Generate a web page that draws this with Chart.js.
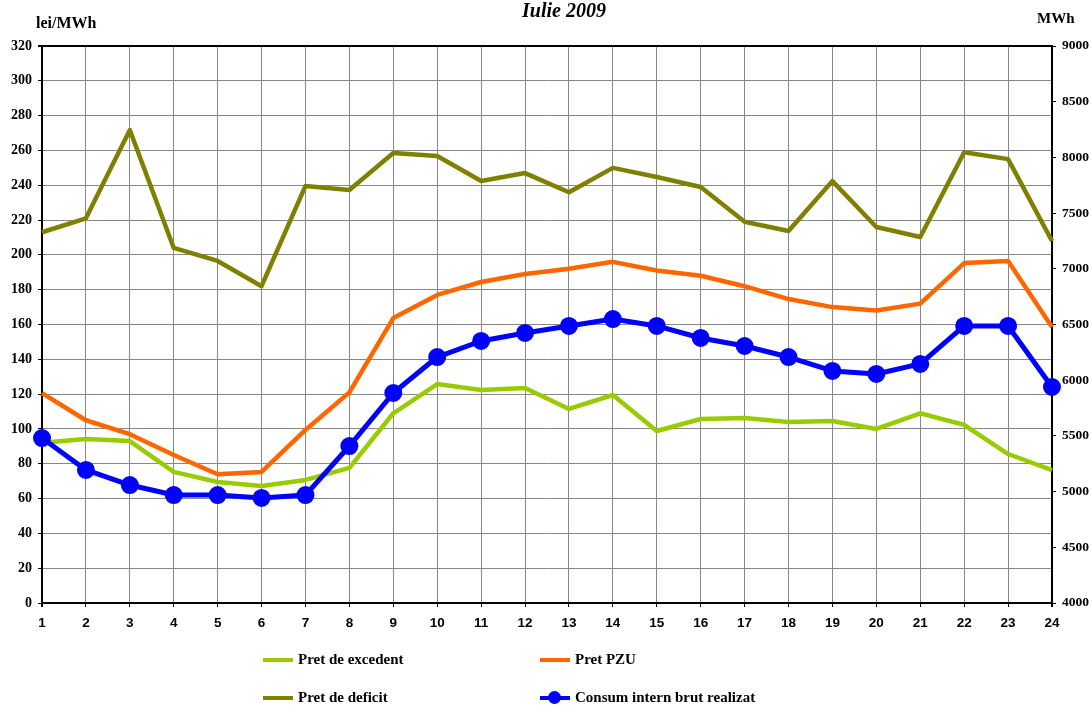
<!DOCTYPE html>
<html>
<head>
<meta charset="utf-8">
<script src="https://cdn.jsdelivr.net/npm/chart.js@4"></script>
<style>
  body { margin: 0; background: #fff; font-family: "Liberation Serif", serif; }
  #wrap { position: relative; width: 1091px; height: 706px; }
  .lbl { position: absolute; font-weight: bold; font-size: 16px; line-height: 18px; color: #000; white-space: nowrap; }
  .leg { position: absolute; font-weight: bold; font-size: 15px; line-height: 18px; }
  .leg i { display: inline-block; width: 30px; height: 4px; vertical-align: middle; margin-right: 5px; position: relative; top: -1px; }
  .dot { position: absolute; left: 8px; top: -5px; width: 13px; height: 13px; border-radius: 50%; background: #0000ff; }
</style>
</head>
<body>
<div id="wrap">
  <canvas id="chart"></canvas>
  <div class="lbl" style="left:522px;top:0px;font-size:20px;line-height:20px;font-style:italic;">Iulie 2009</div>
  <div class="lbl" style="left:36px;top:14px;">lei/MWh</div>
  <div class="lbl" style="left:1037px;top:9px;font-size:15px;">MWh</div>
  <div class="leg" style="left:263px;top:650px;"><i style="background:#99cc00"></i>Pret de excedent</div>
  <div class="leg" style="left:540px;top:650px;"><i style="background:#ff6600"></i>Pret PZU</div>
  <div class="leg" style="left:263px;top:688px;"><i style="background:#808000"></i>Pret de deficit</div>
  <div class="leg" style="left:540px;top:688px;"><i style="background:#0000ff"><span class="dot"></span></i>Consum intern brut realizat</div>
</div>
<script>
const hours = ["1","2","3","4","5","6","7","8","9","10","11","12","13","14","15","16","17","18","19","20","21","22","23","24"];
const pretExcedent = [92, 94.2, 93, 75.3, 69.5, 67.2, 70.7, 77.6, 109, 125.8, 122.4, 123.5, 111.5, 119.5, 98.8, 105.7, 106.3, 104, 104.6, 100, 109, 102.3, 85.6, 76.4];
const pretPZU = [120.6, 105, 97, 85, 74, 75.3, 99.4, 121, 163.7, 177, 184.4, 189, 192, 196, 191, 188, 182, 174.6, 170, 168, 172, 195.3, 196.5, 158.6];
const pretDeficit = [213, 221, 271.7, 204, 196.5, 182, 239.6, 237.3, 258.5, 256.8, 242.4, 247, 236, 250, 244.7, 239, 219, 213.7, 242.4, 216, 210.3, 259, 255, 208];
const consum = [5481, 5194, 5059, 4969, 4969, 4943, 4969, 5409, 5885, 6208, 6352, 6424, 6487, 6549, 6487, 6379, 6307, 6208, 6083, 6056, 6146, 6487, 6487, 5939];

const serifFont = { family: "Liberation Serif", weight: "bold", size: 14 };
const sansFont = { family: "Liberation Sans", weight: "bold", size: 13.5 };

function line(label, data, color, axis, order) {
  return {
    label, data, yAxisID: axis, order,
    borderColor: color, backgroundColor: color,
    borderWidth: 4.5, pointRadius: 0, tension: 0,
    borderJoinStyle: "round"
  };
}

const consumSet = line("Consum intern brut realizat", consum, "#0000ff", "y2", 0);
consumSet.pointRadius = 6.5;
consumSet.borderWidth = 5;

new Chart(document.getElementById("chart"), {
  type: "line",
  data: {
    labels: hours,
    datasets: [
      line("Pret de excedent", pretExcedent, "#99cc00", "y", 3),
      line("Pret PZU", pretPZU, "#ff6600", "y", 2),
      line("Pret de deficit", pretDeficit, "#808000", "y", 1),
      consumSet
    ]
  },
  options: {
    responsive: true,
    maintainAspectRatio: false,
    animation: false,
    layout: { padding: { top: 46, left: 0, right: 0, bottom: 0 } },
    plugins: { legend: { display: false }, tooltip: { enabled: false } },
    scales: {
      x: {
        offset: false,
        afterFit: s => { s.height = 103; },
        grid: {
          color: c => (c.index === 0 || c.index === hours.length - 1) ? "#000" : "#888",
          lineWidth: c => (c.index === 0 || c.index === hours.length - 1) ? 2 : 1,
          tickColor: "#000", tickLength: 4
        },
        border: { color: "#000", width: 2 },
        ticks: { color: "#000", font: sansFont, padding: 8, maxRotation: 0, autoSkip: false }
      },
      y: {
        position: "left",
        min: 0, max: 320,
        afterFit: s => { s.width = 42; },
        grid: {
          color: c => c.tick.value === 320 ? "#000" : "#888",
          lineWidth: c => c.tick.value === 320 ? 2 : 1,
          tickColor: "#000", tickLength: 4
        },
        border: { color: "#000", width: 2 },
        ticks: { stepSize: 20, color: "#000", font: serifFont, padding: 6 }
      },
      y2: {
        position: "right",
        min: 4000, max: 9000,
        afterFit: s => { s.width = 39; },
        grid: { drawOnChartArea: false, tickColor: "#000", tickLength: 4 },
        border: { color: "#000", width: 2 },
        ticks: {
          stepSize: 500, color: "#000", padding: 6,
          font: { family: "Liberation Serif", weight: "bold", size: 13.5 },
          callback: v => String(v)
        }
      }
    }
  }
});
</script>
</body>
</html>
